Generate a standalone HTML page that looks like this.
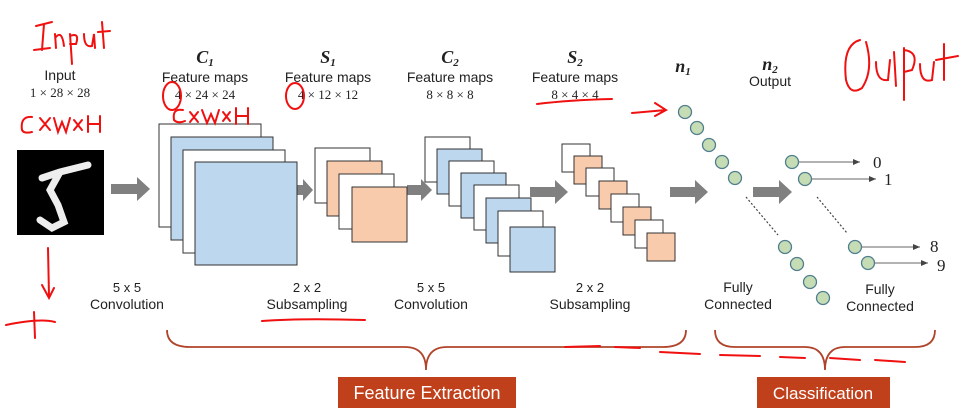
<!DOCTYPE html>
<html><head><style>
body{margin:0;background:#fff;}
svg{display:block;font-family:"Liberation Sans",sans-serif;}
</style></head><body>
<svg width="976" height="413" viewBox="0 0 976 413" xmlns="http://www.w3.org/2000/svg">
<defs>
<marker id="ah" markerWidth="8" markerHeight="8" refX="7" refY="4" orient="auto"><path d="M0,1 L7,4 L0,7Z" fill="#444"/></marker>
</defs>
<!-- input image -->
<rect x="17" y="150" width="87" height="85" fill="#000"/>
<path d="M42,178 L60,172 L88,165 M60,172 L50,190 L58,205 L64,222 L52,228 L40,220" stroke="#eee" stroke-width="7" fill="none" stroke-linecap="round"/>
<!-- big arrows -->
<g fill="#808080">
<path d="M111,184 h26 v-7 l13,12 l-13,12 v-7 h-26z"/>
<path d="M297,185 h6 v-6 l10,11 l-10,11 v-6 h-6z"/>
<path d="M407,185 h14 v-6 l11,11 l-11,11 v-6 h-14z"/>
<path d="M530,187 h25 v-7 l13,12 l-13,12 v-7 h-25z"/>
<path d="M670,187 h25 v-7 l13,12 l-13,12 v-7 h-25z"/>
<path d="M753,187 h26 v-7 l13,12 l-13,12 v-7 h-26z"/>
</g>
<!-- C1 -->
<g stroke="#333" stroke-width="1">
<rect x="159" y="124" width="102" height="103" fill="#fff"/>
<rect x="171" y="137" width="102" height="103" fill="#bdd7ee"/>
<rect x="183" y="150" width="102" height="103" fill="#fff"/>
<rect x="195" y="162" width="102" height="103" fill="#bdd7ee"/>
<!-- S1 -->
<rect x="315" y="148" width="55" height="55" fill="#fff"/>
<rect x="327" y="161" width="55" height="55" fill="#f8cbad"/>
<rect x="339" y="174" width="55" height="55" fill="#fff"/>
<rect x="352" y="187" width="55" height="55" fill="#f8cbad"/>
<!-- C2 -->
<rect x="425" y="137" width="45" height="45" fill="#fff"/>
<rect x="437" y="149" width="45" height="45" fill="#bdd7ee"/>
<rect x="449" y="161" width="45" height="45" fill="#fff"/>
<rect x="461" y="173" width="45" height="45" fill="#bdd7ee"/>
<rect x="474" y="185" width="45" height="45" fill="#fff"/>
<rect x="486" y="198" width="45" height="45" fill="#bdd7ee"/>
<rect x="498" y="211" width="45" height="45" fill="#fff"/>
<rect x="510" y="227" width="45" height="45" fill="#bdd7ee"/>
<!-- S2 -->
<rect x="562" y="144" width="28" height="28" fill="#fff"/>
<rect x="574" y="156" width="28" height="28" fill="#f8cbad"/>
<rect x="586" y="168" width="28" height="28" fill="#fff"/>
<rect x="599" y="181" width="28" height="28" fill="#f8cbad"/>
<rect x="611" y="194" width="28" height="28" fill="#fff"/>
<rect x="623" y="207" width="28" height="28" fill="#f8cbad"/>
<rect x="635" y="220" width="28" height="28" fill="#fff"/>
<rect x="647" y="233" width="28" height="28" fill="#f8cbad"/>
</g>
<!-- neurons -->
<g fill="#c5dcb5" stroke="#4f7f8f" stroke-width="1.3">
<circle cx="685" cy="112" r="6.5"/><circle cx="697" cy="128" r="6.5"/><circle cx="709" cy="145" r="6.5"/><circle cx="722" cy="162" r="6.5"/><circle cx="735" cy="178" r="6.5"/>
<circle cx="785" cy="247" r="6.5"/><circle cx="797" cy="264" r="6.5"/><circle cx="810" cy="282" r="6.5"/><circle cx="823" cy="298" r="6.5"/>
<circle cx="792" cy="162" r="6.5"/><circle cx="805" cy="179" r="6.5"/><circle cx="855" cy="247" r="6.5"/><circle cx="868" cy="263" r="6.5"/>
</g>
<g stroke="#444" stroke-width="1.2" stroke-dasharray="2,2">
<line x1="746" y1="197" x2="778" y2="235"/><line x1="817" y1="197" x2="847" y2="233"/>
</g>
<g stroke="#666" stroke-width="1" marker-end="url(#ah)">
<line x1="799" y1="162" x2="860" y2="162"/><line x1="812" y1="179" x2="876" y2="179"/>
<line x1="862" y1="247" x2="920" y2="247"/><line x1="875" y1="263" x2="928" y2="263"/>
</g>
<g font-family="Liberation Serif,serif" font-size="17" fill="#222">
<text x="873" y="168">0</text><text x="884" y="185">1</text><text x="930" y="252">8</text><text x="937" y="271">9</text>
</g>
<!-- top labels -->
<g font-size="14" fill="#222" text-anchor="middle">
<text x="60" y="80">Input</text><text x="60" y="97" font-family="Liberation Serif,serif" font-size="13">1 × 28 × 28</text>
<text x="205" y="63" font-family="Liberation Serif,serif" font-weight="bold" font-style="italic" font-size="18">C<tspan font-size="11" dy="3">1</tspan></text>
<text x="205" y="82">Feature maps</text><text x="205" y="99" font-family="Liberation Serif,serif" font-size="13">4 × 24 × 24</text>
<text x="328" y="63" font-family="Liberation Serif,serif" font-weight="bold" font-style="italic" font-size="18">S<tspan font-size="11" dy="3">1</tspan></text>
<text x="328" y="82">Feature maps</text><text x="328" y="99" font-family="Liberation Serif,serif" font-size="13">4 × 12 × 12</text>
<text x="450" y="63" font-family="Liberation Serif,serif" font-weight="bold" font-style="italic" font-size="18">C<tspan font-size="11" dy="3">2</tspan></text>
<text x="450" y="82">Feature maps</text><text x="450" y="99" font-family="Liberation Serif,serif" font-size="13">8 × 8 × 8</text>
<text x="575" y="63" font-family="Liberation Serif,serif" font-weight="bold" font-style="italic" font-size="18">S<tspan font-size="11" dy="3">2</tspan></text>
<text x="575" y="82">Feature maps</text><text x="575" y="99" font-family="Liberation Serif,serif" font-size="13">8 × 4 × 4</text>
<text x="683" y="72" font-family="Liberation Serif,serif" font-weight="bold" font-style="italic" font-size="18">n<tspan font-size="11" dy="3">1</tspan></text>
<text x="770" y="70" font-family="Liberation Serif,serif" font-weight="bold" font-style="italic" font-size="18">n<tspan font-size="11" dy="3">2</tspan></text>
<text x="770" y="86">Output</text>
<!-- bottom labels -->
<text x="127" y="292" font-size="13">5 x 5</text><text x="127" y="309">Convolution</text>
<text x="307" y="292" font-size="13">2 x 2</text><text x="307" y="309">Subsampling</text>
<text x="431" y="292" font-size="13">5 x 5</text><text x="431" y="309">Convolution</text>
<text x="590" y="292" font-size="13">2 x 2</text><text x="590" y="309">Subsampling</text>
<text x="738" y="292">Fully</text><text x="738" y="309">Connected</text>
<text x="880" y="294">Fully</text><text x="880" y="311">Connected</text>
</g>
<!-- braces -->
<g stroke="#b0442a" stroke-width="1.8" fill="none">
<path d="M167,330 Q167,347 190,347 L405,347 Q426,347 426,370 Q426,347 447,347 L663,347 Q686,347 686,330"/>
<path d="M715,330 Q715,347 735,347 L805,347 Q825,347 825,370 Q825,347 845,347 L915,347 Q935,347 935,330"/>
</g>
<rect x="338" y="377" width="178" height="31" fill="#c0401c"/>
<text x="427" y="399" fill="#fff" font-size="18" text-anchor="middle">Feature Extraction</text>
<rect x="757" y="377" width="133" height="31" fill="#c0401c"/>
<text x="823" y="399" fill="#fff" font-size="17" text-anchor="middle">Classification</text>
<!-- red annotations -->
<g fill="none" stroke="#f01010" stroke-width="2" stroke-linecap="round">
<path d="M36,26 L52,22 M44,24 L42,50 M34,50 L50,48 M55,34 L56,48 M56,37 Q62,30 64,46 M70,34 L72,64 M70,36 Q80,32 76,44 L70,44 M84,34 Q84,48 92,46 L94,34 L95,48 M102,22 L104,48 M98,32 L110,31"/>
<path d="M32,117 Q20,116 22,130 Q24,134 32,132 M40,118 L50,130 M50,118 L40,130 M54,118 L58,132 L62,122 L66,132 L70,118 M74,120 L82,130 M82,120 L74,130 M88,116 L88,132 M100,116 L100,132 M88,124 L100,124"/>
<path d="M183,110 Q172,108 174,120 Q178,124 185,121 M190,112 L198,122 M198,112 L190,122 M202,110 L207,123 L211,114 L215,123 L219,110 M223,112 L230,121 M230,112 L223,121 M236,108 L236,124 M248,108 L248,124 M236,116 L248,116"/>
<ellipse cx="172" cy="96" rx="9" ry="14"/><ellipse cx="295" cy="96" rx="9" ry="13"/>
<path d="M48,248 L49,296 M42,285 L49,298 L54,288 M6,325 Q40,318 55,322 M34,312 L35,338"/>
<path d="M537,104 Q570,100 612,99 M632,113 L666,110 M655,103 L666,110 L655,116"/>
<path d="M262,321 Q300,318 365,320"/>
<path d="M565,347 L600,346 M615,347 L640,348 M660,352 L700,354 M720,355 L760,356 M780,357 L805,358 M830,358 L860,360 M875,360 L905,362"/>
<path d="M860,40 Q842,45 846,80 Q850,96 862,88 Q874,70 866,42 M876,62 Q876,82 888,80 L890,60 M894,52 L896,86 M904,48 L904,100 M904,50 Q920,52 912,70 L904,72 M920,64 Q920,84 932,80 L934,62 M944,44 L944,80 M936,60 L958,56"/>
</g>
</svg>
</body></html>
